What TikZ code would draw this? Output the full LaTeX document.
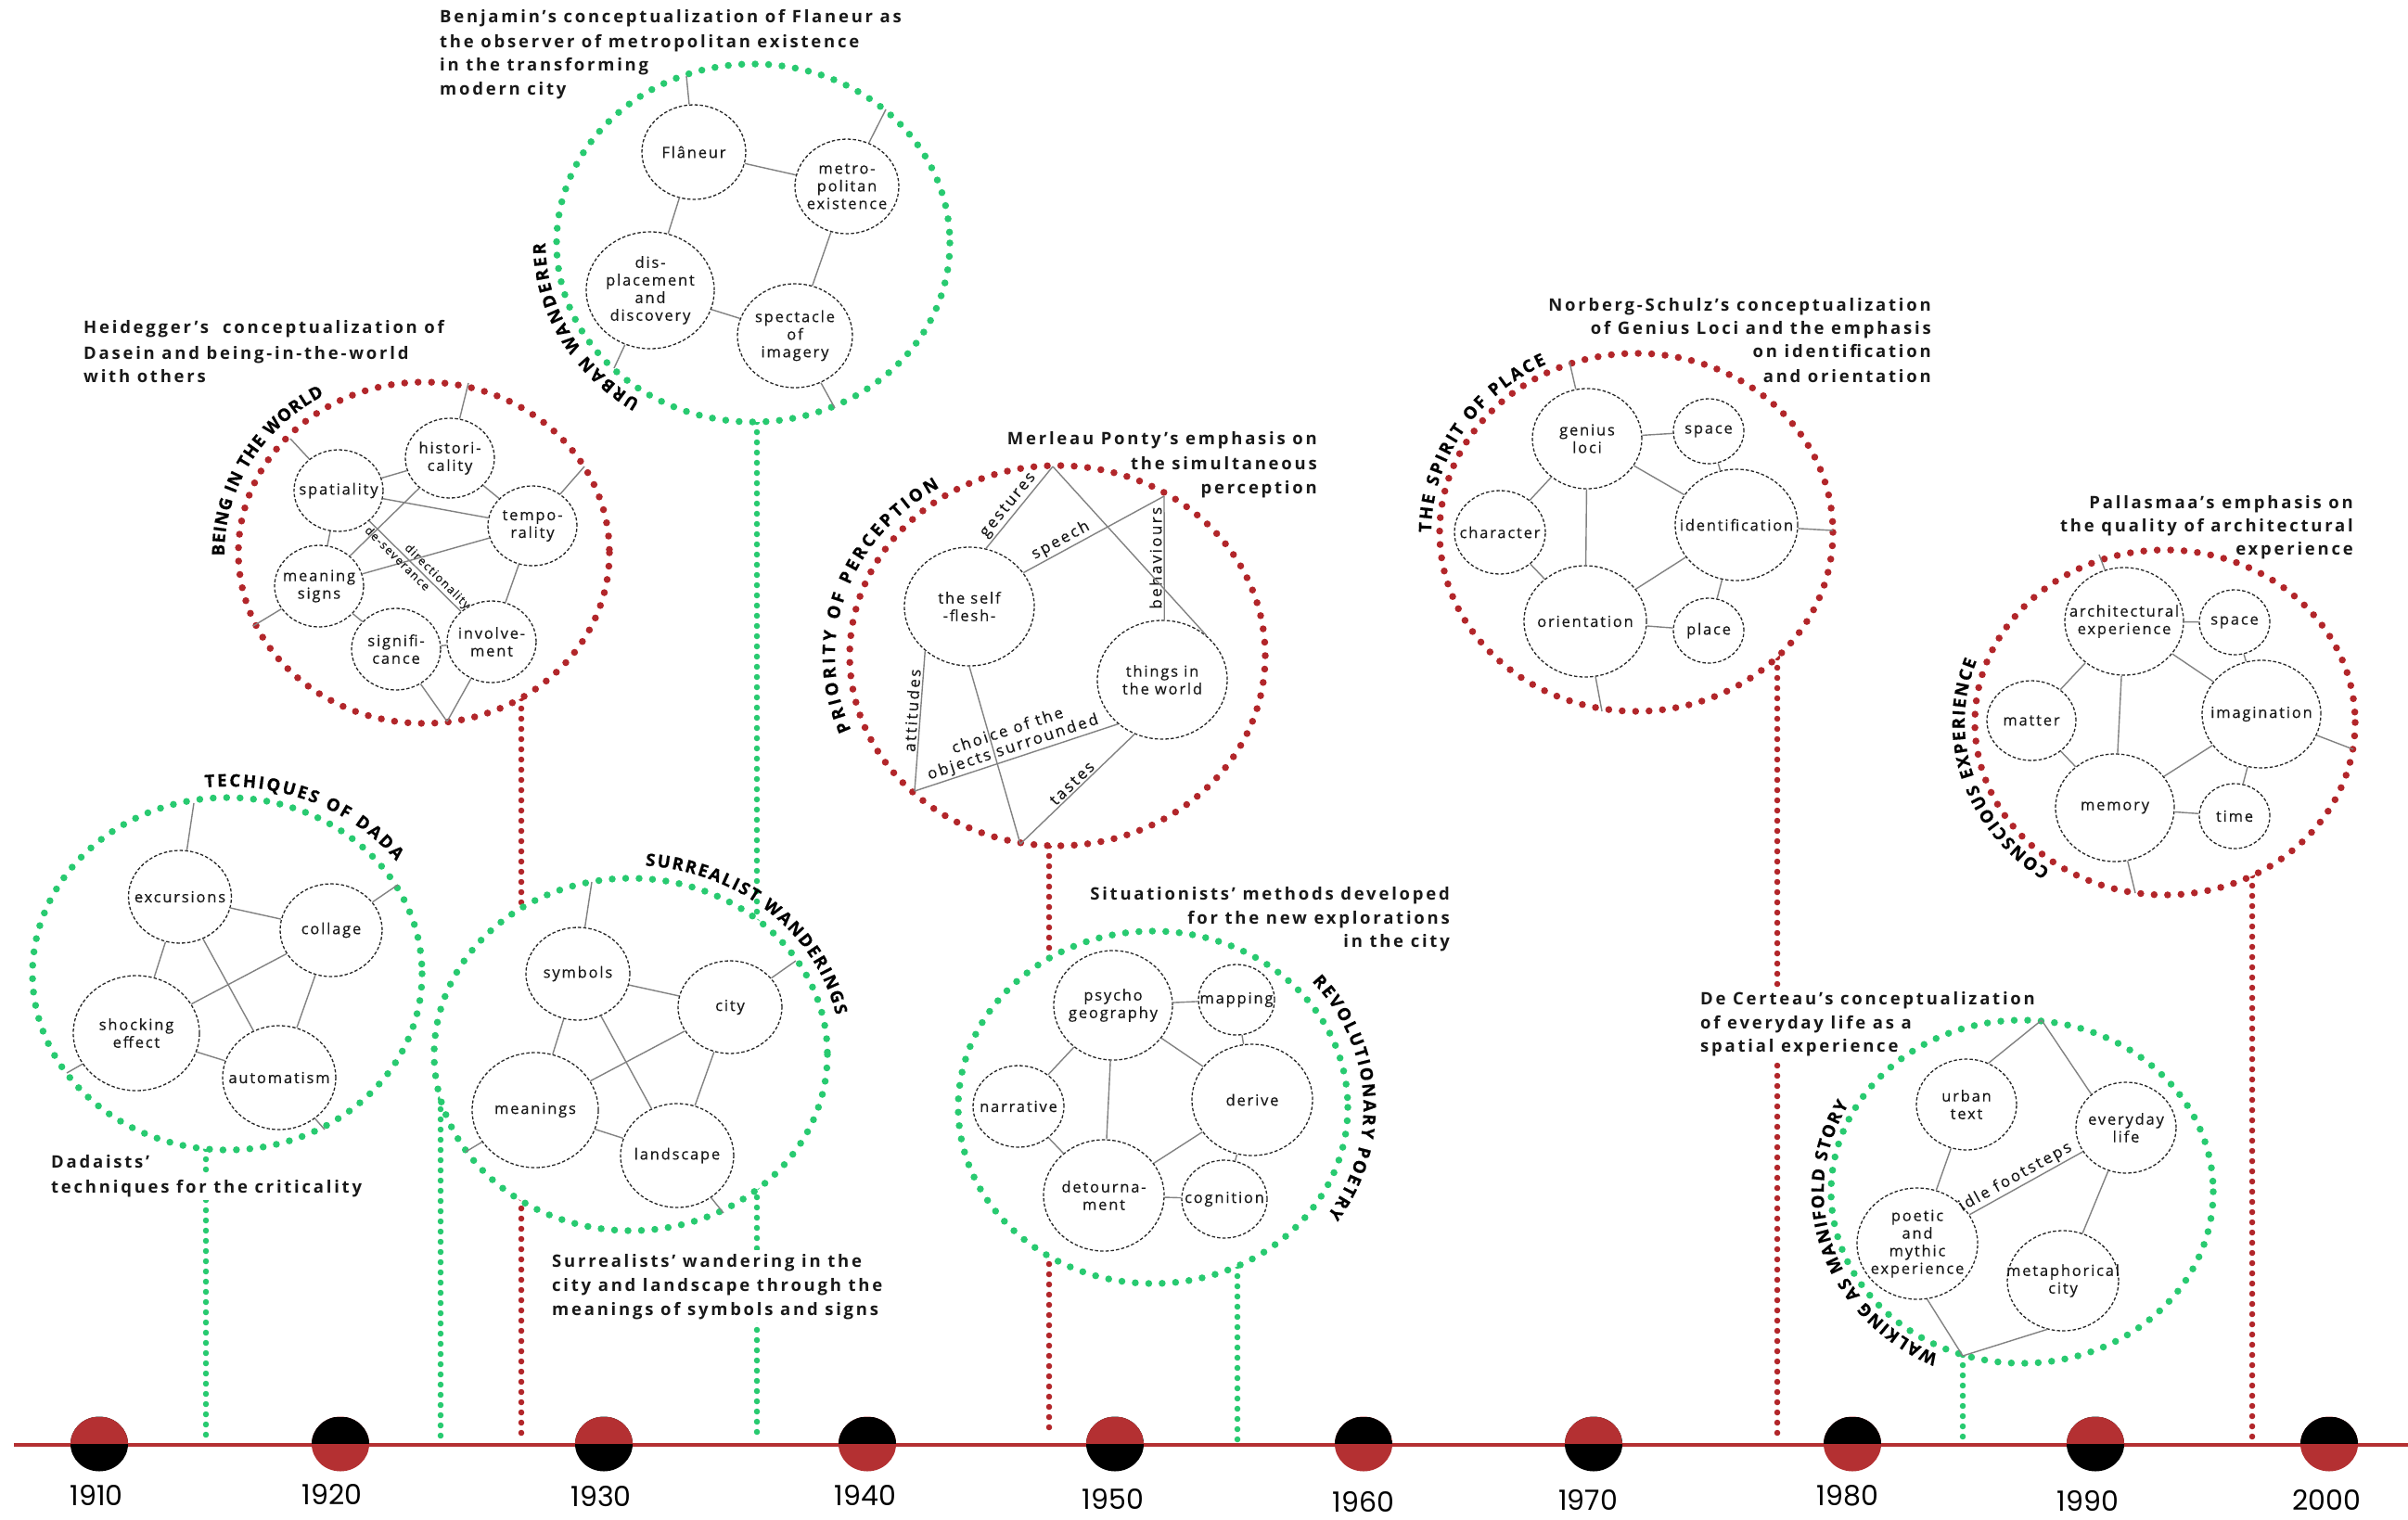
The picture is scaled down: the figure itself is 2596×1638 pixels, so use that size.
\documentclass[tikz,border=0pt]{standalone}
\usepackage{fontspec}
\setmainfont{Open Sans}
\newfontfamily\lblfont[LetterSpace=11,FakeBold=0.35]{Open Sans}
\newfontfamily\elfont[LetterSpace=14,FakeBold=0.35]{Open Sans}
\newfontfamily\capfont[LetterSpace=15]{Open Sans}
\newfontfamily\ttlfont[FakeBold=0.8]{Open Sans}
\newfontfamily\yearfont{Poppins}
\usetikzlibrary{shapes.geometric,decorations.text}
\definecolor{dred}{RGB}{178,38,42}
\definecolor{dgreen}{RGB}{40,202,112}
\definecolor{egray}{RGB}{130,130,130}
\definecolor{tred}{RGB}{180,48,50}
\definecolor{ink}{RGB}{25,25,25}
\begin{document}
\begin{tikzpicture}[x=1pt,y=-1pt,
  ringR/.style={draw=dred,fill=white,line width=7.5pt,line cap=round,dash pattern=on 0pt off 14.5pt},
  ringG/.style={draw=dgreen,fill=white,line width=7.5pt,line cap=round,dash pattern=on 0pt off 14.5pt},
  vlR/.style={draw=dred,line width=6.5pt,line cap=round,dash pattern=on 0pt off 11pt},
  vlG/.style={draw=dgreen,line width=6.5pt,line cap=round,dash pattern=on 0pt off 11pt},
  lbl/.style={font=\lblfont\fontsize{16.5}{19}\selectfont,align=center,text=ink,inner sep=0pt},
  cn/.style n args={3}{ellipse,draw=black!85,line width=1.3pt,dash pattern=on 3.5pt off 2.2pt,fill=white,inner sep=0pt,minimum width=#1,minimum height=#2,label={[lbl]center:{#3}}},
  lnk/.style={draw=egray,line width=1.4pt},
  elbl/.style={font=\elfont\fontsize{17}{18.5}\selectfont,inner sep=2pt,text=ink,align=center},
  slbl/.style={font=\lblfont\fontsize{12.5}{14}\selectfont,inner sep=1.5pt,text=ink},
  capt/.style={font=\capfont\bfseries\fontsize{18.5}{26}\selectfont,fill=white,inner xsep=2pt,inner ysep=3.5pt,text=ink},
  ttl/.style={decorate,decoration={text along path,text align={fit to path},text={|\ttlfont\bfseries\fontsize{18.5}{18.5}\selectfont|#1}}},
  yr/.style={font=\yearfont\fontsize{30}{30}\selectfont,inner sep=0pt,text=black},
  ydRB/.style={ellipse,minimum width=62,minimum height=59,inner sep=0pt,fill=black,path picture={\fill[tred] (path picture bounding box.north west) rectangle (path picture bounding box.east);}},
  ydBR/.style={ellipse,minimum width=62,minimum height=59,inner sep=0pt,fill=tred,path picture={\fill[black] (path picture bounding box.north west) rectangle (path picture bounding box.east);}}
]
\fill[white] (0,0) rectangle (2596,1638);
\useasboundingbox (0,0) rectangle (2596,1638);

% ---------- vertical connectors ----------
\coordinate (vDa) at (222,1239);  \coordinate (vDb) at (222,1553);
\coordinate (vHa) at (562,753);   \coordinate (vHb) at (562,1550);
\coordinate (vBa) at (816,455);   \coordinate (vBb) at (816,1553);
\coordinate (vSa) at (475,1185);  \coordinate (vSb) at (475,1553);
\coordinate (vMa) at (1131,912);  \coordinate (vMb) at (1131,1550);
\coordinate (vXa) at (1334,1365); \coordinate (vXb) at (1334,1553);
\coordinate (vNa) at (1916,709);  \coordinate (vNb) at (1916,1550);
\coordinate (vCa) at (2116,1461); \coordinate (vCb) at (2116,1553);
\coordinate (vPa) at (2428,944);  \coordinate (vPb) at (2428,1550);
\draw[vlG] (vDa) -- (vDb);
\draw[vlR] (vHa) -- (vHb);
\draw[vlG] (vBa) -- (vBb);
\draw[vlG] (vSa) -- (vSb);
\draw[vlR] (vMa) -- (vMb);
\draw[vlG] (vXa) -- (vXb);
\draw[vlR] (vNa) -- (vNb);
\draw[vlG] (vCa) -- (vCb);
\draw[vlR] (vPa) -- (vPb);

% ---------- captions ----------
\node[capt,anchor=base west] (cB1) at (472,24) {Benjamin’s conceptualization of Flaneur as};
\node[capt,anchor=base west] (cB2) at (472,51) {the observer of metropolitan existence};
\node[capt,anchor=base west] (cB3) at (472,76) {in the transforming};
\node[capt,anchor=base west] (cB4) at (472,102) {modern city};
\node[capt,anchor=base west] (cH1) at (88,359) {Heidegger’s\ \ conceptualization of};
\node[capt,anchor=base west] (cH2) at (88,387) {Dasein and being-in-the-world};
\node[capt,anchor=base west] (cH3) at (88,412) {with others};
\node[capt,anchor=base east] (cM1) at (1422,479) {Merleau Ponty’s emphasis on};
\node[capt,anchor=base east] (cM2) at (1422,506) {the simultaneous};
\node[capt,anchor=base east] (cM3) at (1422,532) {perception};
\node[capt,anchor=base east] (cN1) at (2084,335) {Norberg-Schulz’s conceptualization};
\node[capt,anchor=base east] (cN2) at (2084,360) {of Genius Loci and the emphasis};
\node[capt,anchor=base east] (cN3) at (2084,385) {on identification};
\node[capt,anchor=base east] (cN4) at (2084,412) {and orientation};
\node[capt,anchor=base east] (cP1) at (2539,548) {Pallasmaa’s emphasis on};
\node[capt,anchor=base east] (cP2) at (2539,573) {the quality of architectural};
\node[capt,anchor=base east] (cP3) at (2539,598) {experience};
\node[capt,anchor=base west] (cD1) at (53,1259) {Dadaists’};
\node[capt,anchor=base west] (cD2) at (53,1286) {techniques for the criticality};
\node[capt,anchor=base west] (cS1) at (593,1366) {Surrealists’ wandering in the};
\node[capt,anchor=base west] (cS2) at (593,1392) {city and landscape through the};
\node[capt,anchor=base west] (cS3) at (593,1418) {meanings of symbols and signs};
\node[capt,anchor=base east] (cX1) at (1565,970) {Situationists’ methods developed};
\node[capt,anchor=base east] (cX2) at (1565,996) {for the new explorations};
\node[capt,anchor=base east] (cX3) at (1565,1021) {in the city};
\node[capt,anchor=base west] (cC1) at (1831,1083) {De Certeau’s conceptualization};
\node[capt,anchor=base west] (cC2) at (1831,1109) {of everyday life as a};
\node[capt,anchor=base west] (cC3) at (1831,1134) {spatial experience};

% ---------- rings ----------
\draw[ringG] (245,1050) ellipse[x radius=210,y radius=190];
\draw[ringR] (457,596) ellipse[x radius=200,y radius=184];
\draw[ringG] (812,262) ellipse[x radius=212,y radius=193];
\draw[ringG] (680,1137) ellipse[x radius=212,y radius=190];
\draw[ringR] (1140,707) ellipse[x radius=224,y radius=205];
\draw[ringG] (1243,1194) ellipse[x radius=210,y radius=190];
\draw[ringR] (1764,574) ellipse[x radius=212,y radius=193];
\draw[ringR] (2334,779) ellipse[x radius=205,y radius=186];
\draw[ringG] (2180,1285) ellipse[x radius=206,y radius=185];

% ---------- curved titles ----------
\path[ttl={TECHIQUES OF DADA}] (221.2,849.1) arc[start angle=-96,end angle=-37,x radius=228,y radius=202];
\path[ttl={BEING IN THE WORLD}] (242,599.4) arc[start angle=179,end angle=240,x radius=215,y radius=196];
\path[ttl={URBAN WANDERER}] (690,432.3) arc[start angle=123,end angle=180,x radius=224,y radius=203];
\path[ttl={SURREALIST WANDERINGS}] (695.8,933.5) arc[start angle=-86,end angle=-12,x radius=226,y radius=204];
\path[ttl={PRIORITY OF PERCEPTION}] (917.5,787.2) arc[start angle=158,end angle=238,x radius=240,y radius=214];
\path[ttl={REVOLUTIONARY POETRY}] (1414.3,1058.2) arc[start angle=-41,end angle=34,x radius=227,y radius=207];
\path[ttl={THE SPIRIT OF PLACE}] (1543,574) arc[start angle=180,end angle=244,x radius=221,y radius=202];
\path[ttl={CONSCIOUS EXPERIENCE}] (2210.1,937.9) arc[start angle=125,end angle=200,x radius=216,y radius=194];
\path[ttl={WALKING AS MANIFOLD STORY}] (2089.6,1460.8) arc[start angle=115,end angle=209,x radius=214,y radius=194];

% ---------- Dada ----------
\node[cn={111}{100}{excursions}] (ex) at (194,967) {};
\node[cn={110}{100}{collage}] (co) at (357,1003) {};
\node[cn={136}{124}{shocking\\effect}] (sh) at (147,1114) {};
\node[cn={122}{112}{automatism}] (au) at (301,1162) {};
\coordinate (dA) at (209,866); \coordinate (dB) at (429,954);
\coordinate (dC) at (72,1157); \coordinate (dD) at (350,1218);
\draw[lnk] (ex) -- (co) (ex) -- (sh) (ex) -- (au) (co) -- (sh) (co) -- (au) (sh) -- (au);
\draw[lnk] (ex) -- (dA) (co) -- (dB) (sh) -- (dC) (au) -- (dD);

% ---------- Heidegger ----------
\node[cn={96}{86}{histori-\\cality}] (hi) at (485,494) {};
\node[cn={96}{88}{spatiality}] (sp) at (365,529) {};
\node[cn={96}{86}{tempo-\\rality}] (te) at (574,567) {};
\node[cn={96}{88}{meaning\\signs}] (ms) at (344,632) {};
\node[cn={96}{88}{signifi-\\cance}] (si) at (427,700) {};
\node[cn={96}{88}{involve-\\ment}] (inv) at (530,692) {};
\coordinate (hA) at (313,473); \coordinate (hB) at (505,413);
\coordinate (hC) at (630,503); \coordinate (hD) at (273,675);
\coordinate (hE) at (482,778);
\draw[lnk] (sp) -- (hi) (hi) -- (te) (sp) -- (te) (sp) -- (ms) (hi) -- (ms) (ms) -- (te) (ms) -- (si) (si) -- (inv) (te) -- (inv);
\draw[lnk] (sp) -- (inv) node[slbl,pos=0.36,sloped,below] {de-severance} node[slbl,pos=0.68,sloped,above] {directionality};
\draw[lnk] (sp) -- (hA) (hi) -- (hB) (te) -- (hC) (ms) -- (hD) (si) -- (hE) (inv) -- (hE);

% ---------- Benjamin ----------
\node[cn={112}{102}{Flâneur}] (fl) at (748,164) {};
\node[cn={112}{102}{metro-\\politan\\existence}] (me) at (913,201) {};
\node[cn={138}{126}{dis-\\placement\\and\\discovery}] (di) at (701,313) {};
\node[cn={124}{112}{spectacle\\of\\imagery}] (spc) at (857,362) {};
\coordinate (bA) at (740,82); \coordinate (bB) at (955,118);
\coordinate (bC) at (662,397); \coordinate (bD) at (900,440);
\draw[lnk] (fl) -- (me) (fl) -- (di) (me) -- (spc) (di) -- (spc);
\draw[lnk] (fl) -- (bA) (me) -- (bB) (di) -- (bC) (spc) -- (bD);

% ---------- Surrealists ----------
\node[cn={112}{100}{symbols}] (sy) at (623,1050) {};
\node[cn={112}{100}{city}] (ci) at (787,1086) {};
\node[cn={136}{124}{meanings}] (mn) at (577,1197) {};
\node[cn={122}{112}{landscape}] (la) at (730,1246) {};
\coordinate (sA) at (638,951); \coordinate (sB) at (858,1036);
\coordinate (sC) at (502,1242); \coordinate (sD) at (780,1308);
\draw[lnk] (sy) -- (ci) (sy) -- (mn) (sy) -- (la) (ci) -- (mn) (ci) -- (la) (mn) -- (la);
\draw[lnk] (sy) -- (sA) (ci) -- (sB) (mn) -- (sC) (la) -- (sD);

% ---------- Merleau Ponty ----------
\node[cn={140}{128}{the self\\-flesh-}] (sf) at (1045,654) {};
\node[cn={140}{128}{things in\\the world}] (tw) at (1253,733) {};
\coordinate (mA) at (1135,503); \coordinate (mB) at (1255,535);
\coordinate (mC) at (986,853);  \coordinate (mD) at (1100,910);
\draw[lnk] (sf.74) -- (mA) node[elbl,pos=0.45,sloped,above] {gestures};
\draw[lnk] (sf.32) -- (mB) node[elbl,pos=0.3,sloped,above] {speech};
\draw[lnk] (mB) -- (tw.88) node[elbl,pos=0.5,rotate=90,anchor=south] {behaviours};
\draw[lnk] (mA) -- (tw.45);
\draw[lnk] (sf.225) -- (mC) node[elbl,pos=0.43,rotate=86,anchor=south] {attitudes};
\draw[lnk] (mC) -- (tw.225) node[elbl,pos=0.5,sloped,above] {choice of the\\objects surrounded};
\draw[lnk] (sf.270) -- (mD);
\draw[lnk] (mD) -- (tw.243) node[elbl,pos=0.5,sloped,above] {tastes};

% ---------- Situationists ----------
\node[cn={128}{118}{psycho\\geography}] (pg) at (1200,1084) {};
\node[cn={82}{76}{mapping}] (ma) at (1333,1078) {};
\node[cn={98}{88}{narrative}] (na) at (1098,1193) {};
\node[cn={130}{120}{derive}] (der) at (1350,1186) {};
\node[cn={130}{120}{detourna-\\ment}] (dt) at (1190,1289) {};
\node[cn={92}{84}{cognition}] (cg) at (1320,1293) {};
\draw[lnk] (pg) -- (ma) (pg) -- (na) (pg) -- (der) (pg) -- (dt) (ma) -- (der) (na) -- (dt) (der) -- (dt) (der) -- (cg) (dt) -- (cg);

% ---------- Norberg-Schulz ----------
\node[cn={118}{108}{genius\\loci}] (gl) at (1711,473) {};
\node[cn={76}{70}{space}] (spn) at (1842,465) {};
\node[cn={98}{90}{character}] (ch) at (1617,574) {};
\node[cn={132}{120}{identification}] (idf) at (1872,566) {};
\node[cn={132}{120}{orientation}] (ori) at (1709,670) {};
\node[cn={76}{70}{place}] (pl) at (1842,680) {};
\coordinate (nA) at (1692,390); \coordinate (nB) at (1976,572); \coordinate (nC) at (1727,767);
\draw[lnk] (gl) -- (spn) (gl) -- (idf) (gl) -- (ch) (gl) -- (ori) (spn) -- (idf) (ch) -- (ori) (idf) -- (ori) (idf) -- (pl) (ori) -- (pl);
\draw[lnk] (gl) -- (nA) (idf) -- (nB) (ori) -- (nC);

% ---------- Pallasmaa ----------
\node[cn={128}{116}{architectural\\experience}] (ae) at (2290,670) {};
\node[cn={76}{70}{space}] (sq) at (2409,671) {};
\node[cn={96}{86}{matter}] (mt) at (2190,777) {};
\node[cn={128}{116}{imagination}] (im) at (2438,770) {};
\node[cn={128}{116}{memory}] (mm) at (2280,871) {};
\node[cn={76}{70}{time}] (tm) at (2409,880) {};
\coordinate (pA) at (2263,598); \coordinate (pB) at (2537,808); \coordinate (pC) at (2302,963);
\draw[lnk] (ae) -- (sq) (ae) -- (im) (ae) -- (mt) (ae) -- (mm) (sq) -- (im) (mt) -- (mm) (im) -- (mm) (im) -- (tm) (mm) -- (tm);
\draw[lnk] (ae) -- (pA) (im) -- (pB) (mm) -- (pC);

% ---------- De Certeau ----------
\node[cn={108}{98}{urban\\text}] (ut) at (2120,1191) {};
\node[cn={108}{98}{everyday\\life}] (el) at (2292,1216) {};
\node[cn={130}{120}{poetic\\and\\mythic\\experience}] (pm) at (2067,1341) {};
\node[cn={120}{108}{metaphorical\\city}] (mc) at (2224,1381) {};
\coordinate (cA) at (2201,1100); \coordinate (cB) at (2116,1462);
\draw[lnk] (ut) -- (pm) (ut.62) -- (cA) (cA) -- (el.136) (el) -- (mc) (pm.-80) -- (cB) (cB) -- (mc.252);
\draw[lnk] (pm) -- (el) node[elbl,pos=0.45,sloped,above] {idle footsteps};

% ---------- timeline ----------
\coordinate (tlL) at (15,1558); \coordinate (tlR) at (2596,1558);
\draw[tred,line width=4.6pt] (tlL) -- (tlR);
\node[ydRB] (d1910) at (107,1557) {};
\node[ydBR] (d1920) at (367,1557) {};
\node[ydRB] (d1930) at (651,1557) {};
\node[ydBR] (d1940) at (935,1557) {};
\node[ydRB] (d1950) at (1202,1557) {};
\node[ydBR] (d1960) at (1470,1557) {};
\node[ydRB] (d1970) at (1718,1557) {};
\node[ydBR] (d1980) at (1997,1557) {};
\node[ydRB] (d1990) at (2259,1557) {};
\node[ydBR] (d2000) at (2511,1557) {};
\node[yr] (y1910) at (104,1612) {1910};
\node[yr] (y1920) at (358,1611) {1920};
\node[yr] (y1930) at (648,1613) {1930};
\node[yr] (y1940) at (933,1612) {1940};
\node[yr] (y1950) at (1200,1616) {1950};
\node[yr] (y1960) at (1470,1619) {1960};
\node[yr] (y1970) at (1712,1617) {1970};
\node[yr] (y1980) at (1992,1613) {1980};
\node[yr] (y1990) at (2251,1618) {1990};
\node[yr] (y2000) at (2508,1617) {2000};
\end{tikzpicture}
\end{document}
